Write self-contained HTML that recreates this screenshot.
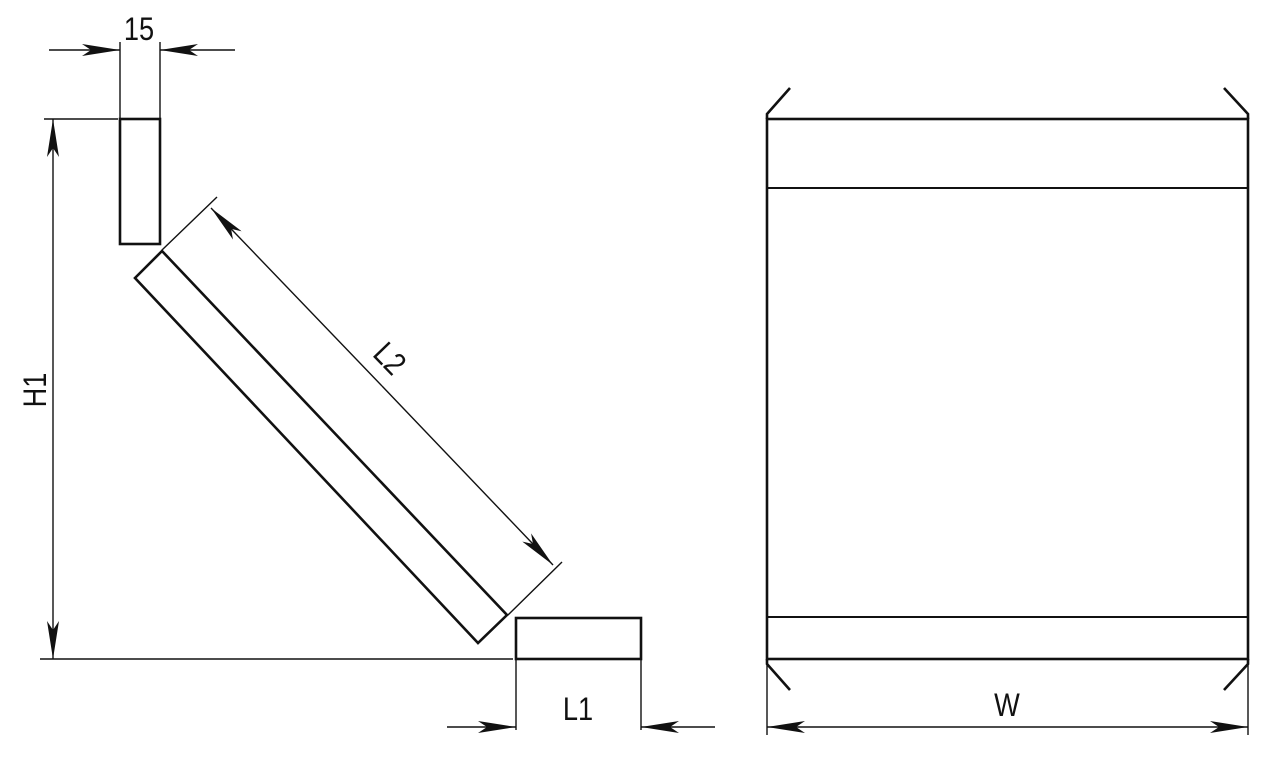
<!DOCTYPE html>
<html><head><meta charset="utf-8"><style>html,body{margin:0;padding:0;background:#fff}svg{display:block}</style></head>
<body>
<svg width="1273" height="766" viewBox="0 0 1273 766" xmlns="http://www.w3.org/2000/svg" font-family="Liberation Sans, sans-serif" fill="none" stroke="#111">
<defs>
<marker id="a" viewBox="0 0 38 12" refX="38" refY="6" markerWidth="38" markerHeight="12" markerUnits="userSpaceOnUse" orient="auto">
<path d="M0,0 L38,6 L0,12 L9,6 Z" fill="#111" stroke="none"/>
</marker>
</defs>
<g stroke-width="1.4">
<line x1="120" y1="42" x2="120" y2="118"/>
<line x1="160" y1="42" x2="160" y2="118"/>
<line x1="49" y1="50" x2="120" y2="50" marker-end="url(#a)"/>
<line x1="235" y1="50" x2="160" y2="50" marker-end="url(#a)"/>
<line x1="44" y1="119" x2="118" y2="119"/>
<line x1="40" y1="659" x2="513" y2="659"/>
<line x1="53" y1="390" x2="53" y2="119" marker-end="url(#a)"/>
<line x1="53" y1="390" x2="53" y2="659" marker-end="url(#a)"/>
<line x1="162" y1="250" x2="217" y2="197"/>
<line x1="508" y1="615" x2="562" y2="562"/>
<line x1="382" y1="386" x2="211" y2="208" marker-end="url(#a)"/>
<line x1="382" y1="386" x2="553" y2="565" marker-end="url(#a)"/>
<line x1="516" y1="660" x2="516" y2="730"/>
<line x1="641" y1="660" x2="641" y2="730"/>
<line x1="447" y1="727" x2="516" y2="727" marker-end="url(#a)"/>
<line x1="715" y1="727" x2="641" y2="727" marker-end="url(#a)"/>
<line x1="767" y1="660" x2="767" y2="735"/>
<line x1="1248" y1="660" x2="1248" y2="735"/>
<line x1="1007" y1="727" x2="767" y2="727" marker-end="url(#a)"/>
<line x1="1007" y1="727" x2="1248" y2="727" marker-end="url(#a)"/>
<line x1="767" y1="188" x2="1248" y2="188" stroke-width="2"/>
<line x1="767" y1="617" x2="1248" y2="617" stroke-width="2"/>
</g>
<g stroke-width="2.6">
<rect x="120" y="119" width="40" height="125"/>
<polygon points="162,251 135,278 478,643 507,615"/>
<rect x="516" y="618" width="125" height="41"/>
<rect x="767" y="119" width="481" height="540"/>
<polyline points="790,88 767,114 767,119"/>
<polyline points="1224,88 1248,114 1248,119"/>
<polyline points="790,690 767,664 767,659"/>
<polyline points="1224,690 1248,664 1248,659"/>
</g>
<g fill="#111" stroke="none" font-size="32">
<text transform="translate(139,40) scale(0.85,1)" text-anchor="middle">15</text>
<text transform="translate(578,720) scale(0.85,1)" text-anchor="middle">L1</text>
<text transform="translate(1007,716) scale(0.85,1)" text-anchor="middle">W</text>
<text transform="translate(46,390) rotate(-90) scale(0.85,1)" text-anchor="middle">H1</text>
<text transform="translate(382,366) rotate(46) scale(0.85,1)" text-anchor="middle">L2</text>
</g>
</svg>
</body></html>
